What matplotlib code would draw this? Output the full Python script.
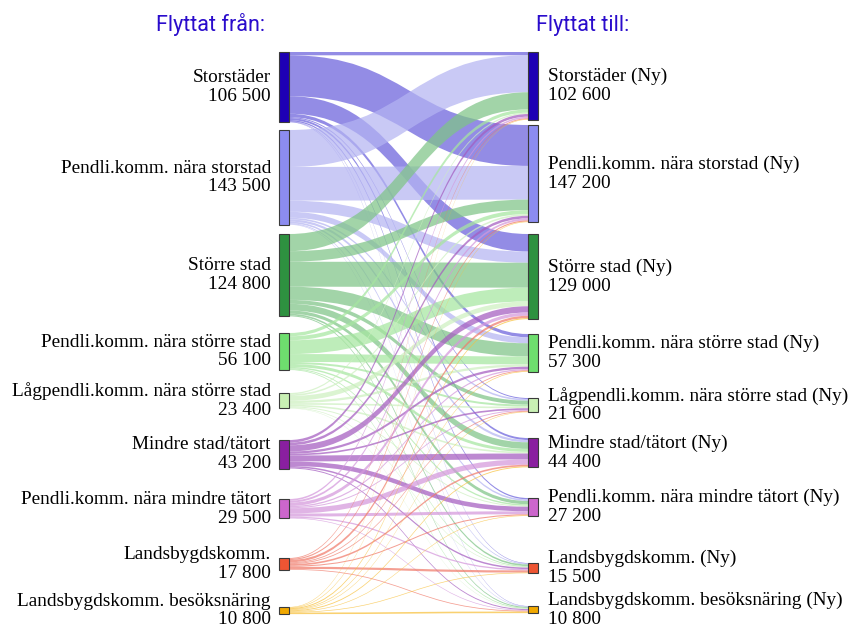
import numpy as np
import matplotlib
matplotlib.use("Agg")
import matplotlib.pyplot as plt
from matplotlib.path import Path
from matplotlib.patches import PathPatch, Rectangle

# ---------------- data ----------------
categories = ["Storstäder", "Pendli.komm. nära storstad", "Större stad",
              "Pendli.komm. nära större stad", "Lågpendli.komm. nära större stad",
              "Mindre stad/tätort", "Pendli.komm. nära mindre tätort",
              "Landsbygdskomm.", "Landsbygdskomm. besöksnäring"]
target_labels = [c + " (Ny)" for c in categories]

# flows from each origin type to each destination type (persons)
from_storstader   = [5000, 62000, 26600, 5000, 1500, 3000, 2000, 800, 600]
from_pendli_stor  = [56000, 51000, 16900, 9000, 2500, 3500, 2500, 1300, 800]
from_storre_stad  = [26000, 16000, 37800, 20000, 6000, 10000, 5000, 2500, 1500]
from_pendli_storre = [5000, 6000, 20900, 12000, 3000, 4500, 2200, 1300, 1200]
from_lagpendli    = [2000, 2500, 7300, 3500, 2500, 2500, 1500, 1000, 600]
from_mindre_stad  = [4000, 4000, 9400, 3500, 2500, 9000, 7000, 2300, 1500]
from_pendli_mindre = [2500, 3000, 5000, 2000, 1500, 8000, 4500, 2000, 1000]
from_landsbygd    = [1300, 1800, 3500, 1300, 1300, 2500, 1600, 3300, 1200]
from_besoksnaring = [800, 900, 1600, 1000, 800, 1400, 900, 1000, 2400]

flows = np.array([from_storstader, from_pendli_stor, from_storre_stad,
                  from_pendli_storre, from_lagpendli, from_mindre_stad,
                  from_pendli_mindre, from_landsbygd, from_besoksnaring], dtype=float)

# ---------------- style / layout ----------------
node_colors = ["#1e00b4", "#8c8cf0", "#2e9140", "#6ede6e", "#c9f0b4",
               "#8a1fa0", "#cc66cc", "#ee5533", "#f0a800"]
link_colors = ["#6a60dc", "#b4b4f2", "#7fc487", "#a6e6a0", "#cdf0c0",
               "#a45cc0", "#d497dc", "#f07a6a", "#f8c03a"]
link_alpha = 0.72

k = 0.00066                     # pixels per person
left_tops = [52, 130, 234, 333, 393, 440, 499, 558, 607]
right_tops = [52, 125, 234, 334, 398, 438, 498, 563, 606]
xl0, xl1 = 279, 289
xr0, xr1 = 528, 538

W, H = 849, 627
fig = plt.figure(figsize=(W / 100, H / 100), dpi=100)
ax = fig.add_axes([0, 0, 1, 1])
ax.set_xlim(0, W)
ax.set_ylim(H, 0)
ax.axis("off")

src_tot = flows.sum(axis=1)
tgt_tot = flows.sum(axis=0)

def fmt(v):
    return f"{int(round(v)):,}".replace(",", " ")

# link positions: at source ordered by target, at target ordered by source
src_pos = {}
for i in range(9):
    y = left_tops[i]
    for j in range(9):
        h = flows[i, j] * k
        src_pos[(i, j)] = (y, y + h)
        y += h
tgt_pos = {}
for j in range(9):
    y = right_tops[j]
    for i in range(9):
        h = flows[i, j] * k
        tgt_pos[(i, j)] = (y, y + h)
        y += h

xm = (xl1 + xr0) / 2
for i in range(9):
    for j in range(9):
        if flows[i, j] <= 0:
            continue
        s0, s1 = src_pos[(i, j)]
        t0, t1 = tgt_pos[(i, j)]
        verts = [(xl1, s0), (xm, s0), (xm, t0), (xr0, t0),
                 (xr0, t1),
                 (xm, t1), (xm, s1), (xl1, s1),
                 (xl1, s0)]
        codes = [Path.MOVETO, Path.CURVE4, Path.CURVE4, Path.CURVE4,
                 Path.LINETO,
                 Path.CURVE4, Path.CURVE4, Path.CURVE4,
                 Path.CLOSEPOLY]
        ax.add_patch(PathPatch(Path(verts, codes), facecolor=link_colors[i],
                               edgecolor="none", alpha=link_alpha, zorder=1))

# nodes
serif = ["Liberation Serif", "DejaVu Serif"]
for i in range(9):
    h = src_tot[i] * k
    ax.add_patch(Rectangle((xl0, left_tops[i]), xl1 - xl0, h, facecolor=node_colors[i],
                           edgecolor="#3a3a3a", linewidth=0.8, zorder=3))
    yc = left_tops[i] + h / 2
    ax.text(271, yc, f"{categories[i]}\n{fmt(src_tot[i])}", ha="right", va="center",
            fontsize=13.9, family=serif, linespacing=1.13, zorder=4)
for j in range(9):
    h = tgt_tot[j] * k
    ax.add_patch(Rectangle((xr0, right_tops[j]), xr1 - xr0, h, facecolor=node_colors[j],
                           edgecolor="#3a3a3a", linewidth=0.8, zorder=3))
    yc = right_tops[j] + h / 2
    ax.text(548, yc, f"{target_labels[j]}\n{fmt(tgt_tot[j])}", ha="left", va="center",
            fontsize=13.9, family=serif, linespacing=1.13, zorder=4)

ax.text(265, 25, "Flyttat från:", ha="right", va="center", fontsize=15.5,
        family=["Roboto", "DejaVu Sans"], color="#2a0ccc")
ax.text(536, 25, "Flyttat till:", ha="left", va="center", fontsize=15.5,
        family=["Roboto", "DejaVu Sans"], color="#2a0ccc")

fig.savefig("out.png", dpi=100)
